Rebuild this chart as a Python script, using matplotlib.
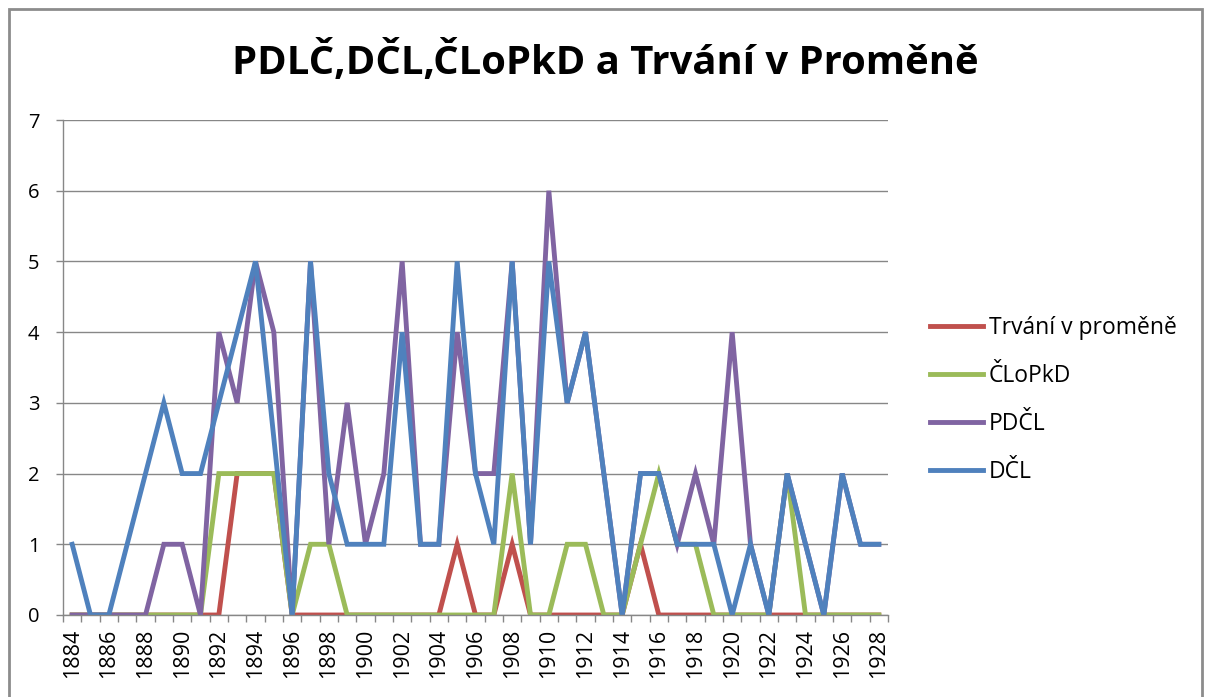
import matplotlib.pyplot as plt
import matplotlib.patches as patches
import numpy as np

years = list(range(1884, 1929))

trvani = [0, 0, 0, 0, 0, 0, 0, 0, 0, 2, 2, 2, 0, 0, 0, 0, 0, 0, 0, 0, 0, 1, 0, 0, 1, 0, 0, 0, 0, 0, 0, 1, 0, 0, 0, 0, 0, 0, 0, 0, 0, 0, 0, 0, 0]
clopkd = [0, 0, 0, 0, 0, 0, 0, 0, 2, 2, 2, 2, 0, 1, 1, 0, 0, 0, 0, 0, 0, 0, 0, 0, 2, 0, 0, 1, 1, 0, 0, 1, 2, 1, 1, 0, 0, 0, 0, 2, 0, 0, 0, 0, 0]
pdcl = [0, 0, 0, 0, 0, 1, 1, 0, 4, 3, 5, 4, 0, 5, 1, 3, 1, 2, 5, 1, 1, 4, 2, 2, 5, 1, 6, 3, 4, 2, 0, 2, 2, 1, 2, 1, 4, 1, 0, 2, 1, 0, 2, 1, 1]
dcl = [1, 0, 0, 1, 2, 3, 2, 2, 3, 4, 5, 2.5, 0, 5, 2, 1, 1, 1, 4, 1, 1, 5, 2, 1, 5, 1, 5, 3, 4, 2, 0, 2, 2, 1, 1, 1, 0, 1, 0, 2, 1, 0, 2, 1, 1]

names = ["Trvání v proměně", "ČLoPkD", "PDČL", "DČL"]
colors = ["#C0504D", "#9BBB59", "#8064A2", "#4F81BD"]

plt.rcParams['font.family'] = ['Open Sans', 'DejaVu Sans']

fig = plt.figure(figsize=(12.06, 6.97), dpi=100)
ax = fig.add_axes([63 / 1206, 1 - 615 / 697, 825 / 1206, 495 / 697])

x = np.arange(len(years))
for vals, name, col in zip([trvani, clopkd, pdcl, dcl], names, colors):
    ax.plot(x, vals, color=col, linewidth=3.5, label=name, solid_joinstyle='miter')

grid_col = "#878787"
ax.set_xlim(-0.5, len(years) - 0.5)
ax.set_ylim(0, 7)
ax.set_yticks(range(0, 8))
ax.yaxis.grid(True, color=grid_col, linewidth=1)
ax.set_axisbelow(True)

ax.set_xticks(x[::2])
ax.set_xticklabels([str(y) for y in years[::2]], rotation=90)
ax.set_xticks(np.arange(-0.5, len(years), 1), minor=True)
ax.tick_params(axis='x', which='major', length=0, pad=10, labelsize=15.5)
ax.tick_params(axis='x', which='minor', length=5, color=grid_col, width=1)
ax.tick_params(axis='y', length=5, color=grid_col, width=1, pad=12, labelsize=14.5)

for s in ['top', 'right']:
    ax.spines[s].set_visible(False)
for s in ['left', 'bottom']:
    ax.spines[s].set_color(grid_col)
    ax.spines[s].set_linewidth(1)

fig.text(605 / 1206, 1 - 62 / 697, "PDLČ,DČL,ČLoPkD a Trvání v Proměně",
         ha='center', va='center', fontsize=28.8, fontweight='bold')

ax.legend(loc='center left', bbox_to_anchor=(919 / 1206, 1 - 400 / 697),
          bbox_transform=fig.transFigure, frameon=False, fontsize=16.5,
          handlelength=2.3, handletextpad=0.25, labelspacing=1.05, borderpad=0)

fig.patches.append(patches.Rectangle((9 / 1206, -0.05), 1193 / 1206, 1.05 - 9 / 697,
                                     transform=fig.transFigure, fill=False,
                                     edgecolor="#8c8c8c", linewidth=2))

fig.savefig("out.png", dpi=100)
